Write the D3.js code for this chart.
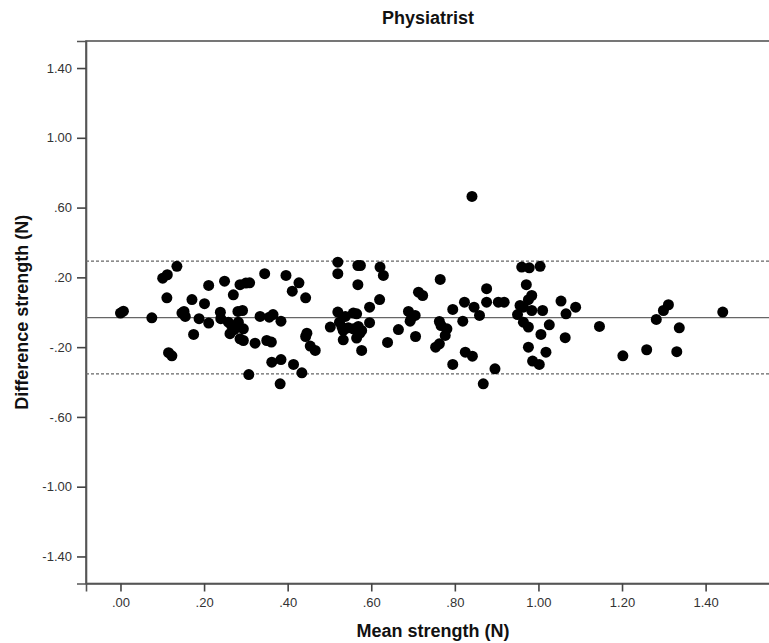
<!DOCTYPE html>
<html>
<head>
<meta charset="utf-8">
<script src="https://cdn.jsdelivr.net/npm/d3@7"></script>
<style>
  body { margin: 0; background: #fff; overflow: hidden; }
  svg { display: block; font-family: "Liberation Sans", Arial, sans-serif; }
  .tick text { font-size: 13px; fill: #333; }
  .label { font-size: 18px; font-weight: bold; fill: #111; }
</style>
</head>
<body>
<svg></svg>
<script>
const meanStrength = [
  0.000, 0.007, 0.075, 0.101, 0.112, 0.135, 0.111, 0.115, 0.123, 0.147,
  0.152, 0.155, 0.171, 0.175, 0.188, 0.201, 0.211, 0.211, 0.239, 0.240,
  0.249, 0.270, 0.258, 0.266, 0.262, 0.272, 0.282, 0.281, 0.292, 0.286,
  0.300, 0.309, 0.294, 0.286, 0.294, 0.307, 0.322, 0.334, 0.356, 0.365,
  0.345, 0.350, 0.361, 0.384, 0.362, 0.384, 0.382, 0.396, 0.411, 0.427,
  0.443, 0.414, 0.434, 0.446, 0.443, 0.454, 0.466,
  0.520, 0.520, 0.568, 0.574, 0.568, 0.621, 0.629, 0.620, 0.596, 0.520,
  0.538, 0.557, 0.565, 0.502, 0.524, 0.530, 0.533, 0.545, 0.557, 0.569,
  0.577, 0.533, 0.565, 0.573, 0.596, 0.577, 0.639, 0.665, 0.689, 0.697,
  0.705, 0.693, 0.706, 0.713, 0.723, 0.765, 0.763, 0.767, 0.781, 0.777,
  0.763, 0.754, 0.795, 0.795, 0.819, 0.823, 0.846, 0.859, 0.825, 0.842,
  0.868, 0.876, 0.876, 0.841,
  0.896, 0.904, 0.918, 0.960, 0.978, 1.004, 0.971, 0.984, 0.976, 0.956,
  0.964, 0.984, 1.010, 0.950, 0.964, 0.976, 1.026, 1.006, 0.976, 1.018,
  0.986, 1.002, 1.054, 1.066, 1.089, 1.064, 1.146, 1.202, 1.259, 1.282,
  1.299, 1.311, 1.337, 1.331, 1.441
];
const diffStrength = [
  -0.005, 0.006, -0.032, 0.195, 0.215, 0.263, 0.083, -0.232, -0.250, -0.005,
  0.005, -0.024, 0.073, -0.127, -0.037, 0.049, 0.154, -0.062, 0.000, -0.037,
  0.178, 0.100, -0.057, -0.076, -0.123, -0.100, -0.057, 0.005, 0.010, 0.158,
  0.167, 0.169, -0.095, -0.152, -0.162, -0.357, -0.177, -0.024, -0.028, -0.013,
  0.221, -0.162, -0.171, -0.051, -0.286, -0.271, -0.410, 0.211, 0.121, 0.169,
  0.083, -0.299, -0.347, -0.120, -0.139, -0.194, -0.219,
  0.287, 0.221, 0.268, 0.268, 0.158, 0.259, 0.211, 0.073, 0.029, 0.001,
  -0.024, -0.005, -0.009, -0.085, -0.057, -0.085, -0.104, -0.089, -0.095, -0.081,
  -0.104, -0.158, -0.148, -0.120, -0.060, -0.219, -0.173, -0.099, 0.005, -0.028,
  -0.018, -0.051, -0.139, 0.115, 0.096, 0.188, -0.053, -0.076, -0.095, -0.133,
  -0.181, -0.200, 0.016, -0.299, -0.051, 0.058, 0.029, -0.018, -0.229, -0.252,
  -0.410, 0.135, 0.058, 0.664,
  -0.324, 0.058, 0.058, 0.259, 0.255, 0.263, 0.158, 0.096, 0.072, 0.039,
  0.029, 0.010, 0.010, -0.013, -0.057, -0.085, -0.072, -0.127, -0.200, -0.229,
  -0.280, -0.299, 0.064, -0.009, 0.029, -0.146, -0.081, -0.250, -0.215, -0.041,
  0.010, 0.043, -0.089, -0.226, 0.001
];
const xTicks = [0, 0.2, 0.4, 0.6, 0.8, 1.0, 1.2, 1.4];
const yTicks = [-1.4, -1.0, -0.6, -0.2, 0.2, 0.6, 1.0, 1.4];
const meanDiff = -0.031;
const limitsOfAgreement = [0.293, -0.353];

const width = 769, height = 643;
const margin = {top: 41, right: -6, bottom: 59.5, left: 86};
const innerWidth = width - margin.left - margin.right;
const innerHeight = height - margin.top - margin.bottom;

const svg = d3.select('svg')
  .attr('width', width)
  .attr('height', height);

const xScale = d3.scaleLinear()
  .domain([-0.0825, 1.566])
  .range([0, innerWidth]);

const yScale = d3.scaleLinear()
  .domain([-1.555, 1.555])
  .range([innerHeight, 0]);

// SPSS style labels: no leading zero, plain hyphen for minus
const fmt = v => d3.format('.2f')(v).replace('\u2212', '-').replace(/^(-?)0\./, '$1.');

const g = svg.append('g')
  .attr('transform', `translate(${margin.left},${margin.top})`);

g.append('rect')
  .attr('width', innerWidth)
  .attr('height', innerHeight)
  .attr('fill', 'none')
  .attr('stroke', '#555')
  .attr('stroke-width', 1.6);

const xAxisG = g.append('g')
  .attr('transform', `translate(0,${innerHeight})`)
  .call(d3.axisBottom(xScale).tickValues(xTicks).tickFormat(fmt).tickSize(8).tickPadding(6));
xAxisG.select('.domain').attr('stroke', '#555').attr('stroke-width', 1.6);
xAxisG.selectAll('.tick line').attr('stroke', '#444').attr('stroke-width', 1.6);

const yAxisG = g.append('g')
  .call(d3.axisLeft(yScale).tickValues(yTicks).tickFormat(fmt).tickSize(9).tickPadding(5));
yAxisG.select('.domain').attr('stroke', '#555').attr('stroke-width', 1.6);
yAxisG.selectAll('.tick line').attr('stroke', '#444').attr('stroke-width', 1.6);

g.append('line')
  .attr('x1', 0).attr('x2', innerWidth)
  .attr('y1', yScale(meanDiff)).attr('y2', yScale(meanDiff))
  .attr('stroke', '#666')
  .attr('stroke-width', 1.4);

g.selectAll('.limit')
  .data(limitsOfAgreement)
  .enter().append('line')
  .attr('class', 'limit')
  .attr('x1', 0).attr('x2', innerWidth)
  .attr('y1', d => yScale(d)).attr('y2', d => yScale(d))
  .attr('stroke', '#666')
  .attr('stroke-width', 1.3)
  .attr('stroke-dasharray', '3,2');

g.selectAll('circle')
  .data(meanStrength)
  .enter().append('circle')
  .attr('cx', d => xScale(d))
  .attr('cy', (d, i) => yScale(diffStrength[i]))
  .attr('r', 5.5)
  .attr('fill', '#000');

svg.append('text')
  .attr('class', 'label')
  .attr('x', 428)
  .attr('y', 24)
  .attr('text-anchor', 'middle')
  .text('Physiatrist');

svg.append('text')
  .attr('class', 'label')
  .attr('x', 433)
  .attr('y', 637)
  .attr('text-anchor', 'middle')
  .text('Mean strength (N)');

svg.append('text')
  .attr('class', 'label')
  .attr('transform', `translate(28,${margin.top + yScale(0)}) rotate(-90)`)
  .attr('text-anchor', 'middle')
  .text('Difference strength (N)');
</script>
</body>
</html>
